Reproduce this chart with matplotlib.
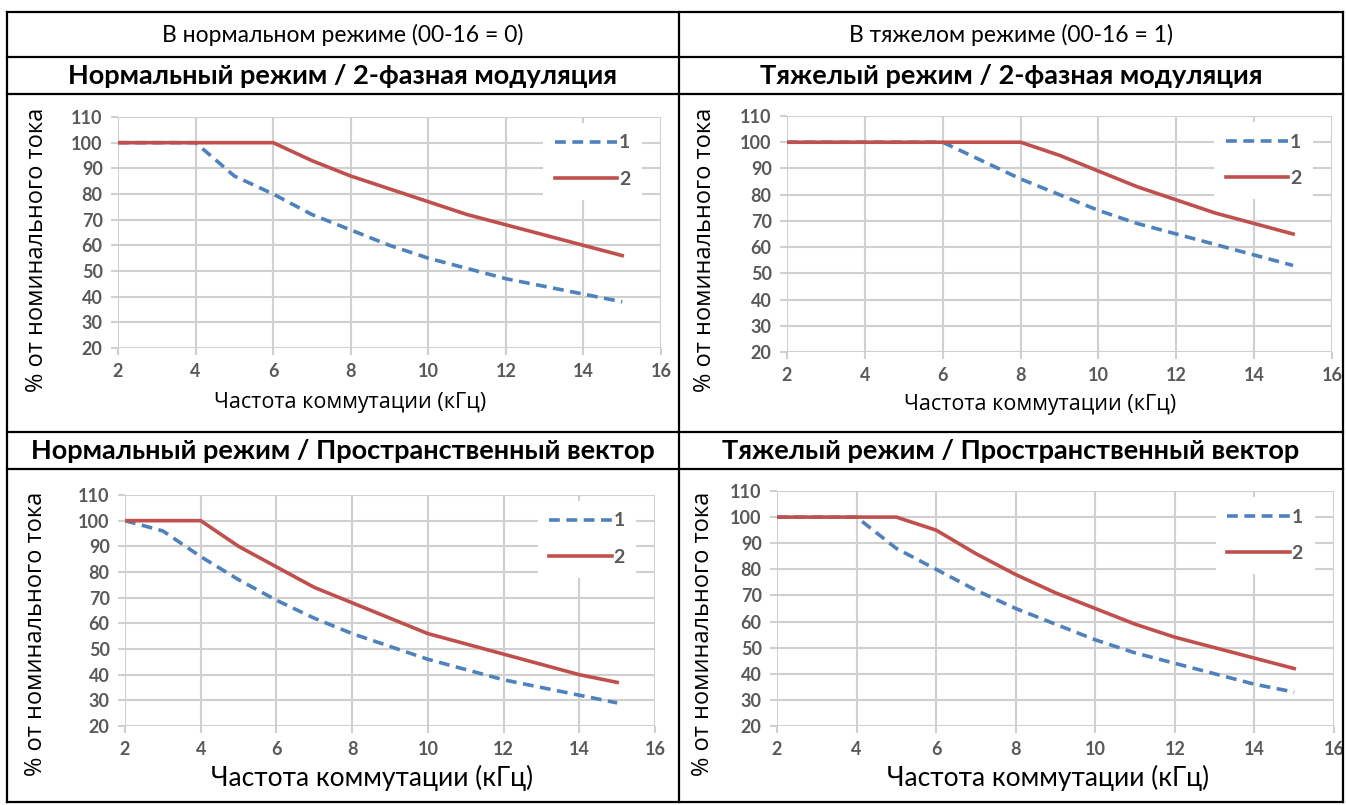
import numpy as np
import matplotlib
matplotlib.use("Agg")
import matplotlib.pyplot as plt
from matplotlib.lines import Line2D

W, H = 1346, 805

# --- данные (кГц -> % от номинального тока) ---
freq = [2, 3, 4, 5, 6, 7, 8, 9, 10, 11, 12, 13, 14, 15]

# Нормальный режим / 2-фазная модуляция
n2_s1 = [100, 100, 100, 87, 80, 72, 66, 60, 55, 51, 47, 44, 41, 38]
n2_s2 = [100, 100, 100, 100, 100, 93, 87, 82, 77, 72, 68, 64, 60, 56]
# Тяжелый режим / 2-фазная модуляция
h2_s1 = [100, 100, 100, 100, 100, 93, 86, 80, 74, 69, 65, 61, 57, 53]
h2_s2 = [100, 100, 100, 100, 100, 100, 100, 95, 89, 83, 78, 73, 69, 65]
# Нормальный режим / Пространственный вектор
nv_s1 = [100, 96, 86, 77, 69, 62, 56, 51, 46, 42, 38, 35, 32, 29]
nv_s2 = [100, 100, 100, 90, 82, 74, 68, 62, 56, 52, 48, 44, 40, 37]
# Тяжелый режим / Пространственный вектор
hv_s1 = [100, 100, 100, 88, 80, 72, 65, 59, 53, 48, 44, 40, 36, 33]
hv_s2 = [100, 100, 100, 100, 95, 86, 78, 71, 65, 59, 54, 50, 46, 42]

headers = ["В нормальном режиме (00-16 = 0)", "В тяжелом режиме (00-16 = 1)"]
titles = ["Нормальный режим / 2-фазная модуляция",
          "Тяжелый режим / 2-фазная модуляция",
          "Нормальный режим / Пространственный вектор",
          "Тяжелый режим / Пространственный вектор"]
series_labels = ["1", "2"]
ylabel = "% от номинального тока"
xlabel = "Частота коммутации (кГц)"

BLUE = "#4f81bd"
RED = "#c0504d"
GRID = "#d0d0d0"
TICK = "#595959"
NARROW = ["Lato", "DejaVu Sans"]
WIDE = ["Open Sans", "DejaVu Sans"]

fig = plt.figure(figsize=(W / 100, H / 100), dpi=100)


def fx(x):
    return x / W


def fy(y):
    return 1 - y / H


# --- таблица ---
left, mid, right = 7, 679, 1343
rows = [12, 57, 94, 432, 469, 802]
for y in rows:
    fig.add_artist(Line2D([fx(left), fx(right)], [fy(y), fy(y)],
                          color="black", lw=1.6))
for x in (left, mid, right):
    fig.add_artist(Line2D([fx(x), fx(x)], [fy(rows[0]), fy(rows[-1])],
                          color="black", lw=1.6))

col_c = [(left + mid) / 2, (mid + right) / 2]
for i, h in enumerate(headers):
    fig.text(fx(col_c[i]), fy((rows[0] + rows[1]) / 2), h, ha="center",
             va="center", fontsize=16.5, family=NARROW)
for i, t in enumerate(titles):
    r = 1 if i < 2 else 3
    fig.text(fx(col_c[i % 2]), fy((rows[r] + rows[r + 1]) / 2), t,
             ha="center", va="center", fontsize=19.5, fontweight="bold",
             family=NARROW)

# --- графики ---
# (область графика px), ряды, подпись Y (x, y), подпись X (x, y), шрифт
panels = [
    ((118, 117, 661, 348), n2_s1, n2_s2, 37, 250, 350, 402, WIDE),
    ((787, 116, 1332, 352), h2_s1, h2_s2, 705, 250, 1040, 404, WIDE),
    ((125, 495, 655, 726), nv_s1, nv_s2, 36, 634, 372, 778, NARROW),
    ((777, 491, 1334, 726), hv_s1, hv_s2, 703, 634, 1048, 778, NARROW),
]

for (x0, y0, x1, y1), s1, s2, ylx, yly, xlx, xly, xfont in panels:
    ax = fig.add_axes([fx(x0), fy(y1), fx(x1 - x0), (y1 - y0) / H])
    ax.plot(freq, s1, "--", color=BLUE, lw=2.6, dashes=(3, 1.8),
            label=series_labels[0], zorder=3)
    ax.plot(freq, s2, "-", color=RED, lw=2.6, label=series_labels[1],
            zorder=3)
    ax.set_xlim(2, 16)
    ax.set_ylim(20, 110)
    ax.set_xticks(range(2, 17, 2))
    ax.set_yticks(range(20, 111, 10))
    ax.grid(True, color=GRID, lw=1.5)
    ax.set_axisbelow(True)
    for sp in ax.spines.values():
        sp.set_visible(False)
    ax.tick_params(direction="out", length=5, width=1.5, color=GRID,
                   labelcolor=TICK, labelsize=13, pad=6)
    for lab in ax.get_xticklabels() + ax.get_yticklabels():
        lab.set_family(NARROW)
        lab.set_fontweight("bold")
    leg = ax.legend(loc="upper right", bbox_to_anchor=(0.965, 0.975),
                    borderaxespad=0, frameon=True, fancybox=False,
                    handlelength=3.2, handletextpad=0.1, labelspacing=1.0,
                    fontsize=14, borderpad=0.6)
    leg.get_frame().set_edgecolor("none")
    leg.get_frame().set_facecolor("white")
    leg.get_frame().set_alpha(1)
    for t in leg.get_texts():
        t.set_color(TICK)
        t.set_family(NARROW)
        t.set_fontweight("bold")

    fig.text(fx(ylx), fy(yly), ylabel, rotation=90, ha="center",
             va="center", fontsize=17, family=WIDE)
    fig.text(fx(xlx), fy(xly), xlabel, ha="center", va="center",
             fontsize=15.5 if xfont is WIDE else 19, family=xfont)

fig.savefig("out.png", dpi=100)
